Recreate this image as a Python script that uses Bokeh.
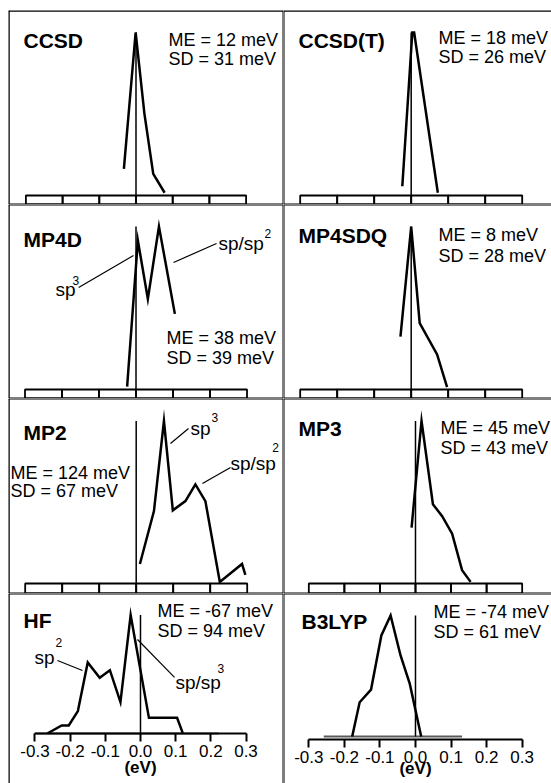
from bokeh.plotting import figure
from bokeh.layouts import gridplot
from bokeh.models import Span, Label, LinearAxis, FixedTicker, PrintfTickFormatter, Range1d
from bokeh.embed import file_html
from bokeh.resources import INLINE

FONT = "Liberation Sans"

# ---------------- data ----------------
ticks = [-0.3, -0.2, -0.1, 0.0, 0.1, 0.2, 0.3]
tick_labels = ["-0.3", "-0.2", "-0.1", "0.0", "0.1", "0.2", "0.3"]

methods = ["CCSD", "CCSD(T)", "MP4D", "MP4SDQ", "MP2", "MP3", "HF", "B3LYP"]
me_mev = [12, 18, 38, 8, 124, 45, -67, -74]
sd_mev = [31, 26, 39, 28, 67, 43, 94, 61]

# error (eV) and relative frequency (peak = 1)
ccsd_err = [-0.033, -0.001, 0.023, 0.047, 0.078]
ccsd_freq = [0.164, 1.0, 0.501, 0.133, 0.017]
ccsdt_err = [-0.024, 0.003, 0.008, 0.072]
ccsdt_freq = [0.057, 1.0, 1.0, 0.017]
mp4d_err = [-0.024, 0.005, 0.032, 0.062, 0.105]
mp4d_freq = [0.018, 0.914, 0.556, 1.0, 0.464]
mp4sdq_err = [-0.029, 0.0, 0.023, 0.070, 0.097]
mp4sdq_freq = [0.325, 1.0, 0.407, 0.215, 0.014]
mp2_err = [0.010, 0.048, 0.075, 0.099, 0.133, 0.160, 0.187, 0.226, 0.286, 0.295]
mp2_freq = [0.12, 0.446, 1.0, 0.45, 0.507, 0.61, 0.507, 0.01, 0.12, 0.053]
mp3_err = [-0.011, 0.017, 0.049, 0.075, 0.103, 0.131, 0.155]
mp3_freq = [0.344, 1.0, 0.488, 0.414, 0.307, 0.082, 0.01]
hf_err = [-0.265, -0.224, -0.204, -0.178, -0.150, -0.116, -0.087, -0.057,
          -0.028, 0.024, 0.104, 0.120]
hf_freq = [0.0, 0.068, 0.068, 0.189, 0.60, 0.47, 0.534, 0.265, 1.0, 0.132,
           0.132, 0.005]
hf_range = [-0.299, 0.222]
b3lyp_err = [-0.178, -0.157, -0.125, -0.096, -0.070, -0.042, -0.016, 0.016]
b3lyp_freq = [0.0, 0.283, 0.388, 0.835, 1.0, 0.67, 0.435, 0.0]
b3lyp_range = [-0.258, 0.131]

series_err = [ccsd_err, ccsdt_err, mp4d_err, mp4sdq_err, mp2_err, mp3_err, hf_err, b3lyp_err]
series_freq = [ccsd_freq, ccsdt_freq, mp4d_freq, mp4sdq_freq, mp2_freq, mp3_freq, hf_freq, b3lyp_freq]
series_range = {6: hf_range, 7: b3lyp_range}

# hybridisation annotations: (panel, text, sup, text xy, sup xy, leader start, leader end)
annotations = [
    (2, "sp", "3", (-0.2176, 0.613), (-0.1716, 0.669), (-0.155, 0.626), (-0.0068, 0.822)),
    (2, "sp/sp", "2", (0.223, 0.896), (0.347, 0.957), (0.1014, 0.779), (0.2176, 0.896)),
    (4, "sp", "3", (0.1468, 0.954), (0.2035, 1.023), (0.0927, 0.862), (0.1414, 0.954)),
    (4, "sp/sp", "2", (0.2549, 0.738), (0.368, 0.837), (0.179, 0.615), (0.2549, 0.714)),
    (6, "sp", "2", (-0.3014, 0.644), (-0.2417, 0.768), (-0.236, 0.616), (-0.165, 0.532)),
    (6, "sp/sp", "3", (0.0995, 0.428), (0.219, 0.549), (-0.0085, 0.793), (0.0967, 0.473)),
]

# ---------------- layout (sizes / ranges / text placement) ----------------
panels = [
    dict(w=283, h=204, ml=8, mt=10, x=(-0.3474, 0.4019), y=(-0.0552, 1.135), title=(-0.3065, 0.951), stats=(0.0886, 0.951, 0.840)),
    dict(w=268, h=204, ml=0, mt=10, x=(-0.3451, 0.3792), y=(-0.0552, 1.135), title=(-0.3046, 0.951), stats=(0.0738, 0.969, 0.847)),
    dict(w=283, h=194, ml=8, mt=0, x=(-0.3446, 0.3986), y=(-0.0552, 1.135), title=(-0.304, 0.920), stats=(0.0824, 0.313, 0.196)),
    dict(w=268, h=194, ml=0, mt=0, x=(-0.3451, 0.3792), y=(-0.0552, 1.135), title=(-0.3046, 0.945), stats=(0.0738, 0.945, 0.822)),
    dict(w=283, h=195, ml=8, mt=0, x=(-0.3451, 0.3981), y=(-0.0615, 1.1385), title=(-0.3046, 0.929), stats=(-0.3397, 0.683, 0.572)),
    dict(w=268, h=195, ml=0, mt=0, x=(-0.3712, 0.3825), y=(-0.0615, 1.1385), title=(-0.329, 0.954), stats=(0.0703, 0.954, 0.831)),
    dict(w=283, h=190, ml=8, mt=0, x=(-0.3753, 0.4066), y=(-0.4219, 1.1814), title=(-0.3327, 0.954), stats=(0.0483, 1.030, 0.869), axis_at=0.0, unit_y=-0.287),
    dict(w=268, h=190, ml=0, mt=0, x=(-0.3712, 0.3825), y=(-0.3884, 1.1818), title=(-0.3206, 0.950), stats=(0.0506, 1.025, 0.860), axis_at=-0.025, unit_y=-0.264),
]


def label(p, x, y, text, size, bold=False, align="left"):
    p.add_layout(Label(x=x, y=y, text=text, text_font=FONT, text_font_size=size,
                       text_font_style="bold" if bold else "normal", text_color="black",
                       text_align=align, text_baseline="middle"))


figs = []
for i, cfg in enumerate(panels):
    col = i % 2
    row = i // 2
    p = figure(width=cfg["w"], height=cfg["h"], output_backend="svg", toolbar_location=None,
               x_range=Range1d(*cfg["x"]), y_range=Range1d(*cfg["y"]),
               x_axis_location=None, y_axis_location=None,
               min_border_left=cfg["ml"], min_border_right=0, min_border_bottom=0,
               min_border_top=cfg["mt"], outline_line_color=None,
               background_fill_color="white", border_fill_color="white")
    p.grid.visible = False

    x0, x1 = cfg["x"]
    y0, y1 = cfg["y"]

    # panel borders
    if col == 0:
        p.add_layout(Span(location=x0, dimension="height", line_color="black", line_width=2.5))
        p.add_layout(Span(location=x1, dimension="height", line_color="black", line_width=2))
    else:
        p.add_layout(Span(location=x0, dimension="height", line_color="black", line_width=2))
    p.add_layout(Span(location=y1, dimension="width", line_color="black",
                      line_width=2.5 if row == 0 else 2))
    if row < 3:
        p.add_layout(Span(location=y0, dimension="width", line_color="black", line_width=2))
        # ruler-style x scale along the bottom
        p.quad(left=ticks[:-1], right=ticks[1:], bottom=y0, top=0,
               fill_color=None, line_color="black", line_width=1.8)
    else:
        lo, hi = series_range[i]
        p.line([lo, hi], [0, 0], line_color="#5a5a5a", line_width=2)
        ax = LinearAxis(fixed_location=cfg["axis_at"], ticker=FixedTicker(ticks=ticks),
                        formatter=PrintfTickFormatter(format="%.1f"),
                        major_label_overrides={t: l for t, l in zip(ticks, tick_labels)},
                        bounds=(ticks[0], ticks[-1]),
                        axis_line_width=2, major_tick_line_width=2,
                        major_tick_in=0, major_tick_out=8,
                        minor_tick_line_color=None, major_label_standoff=3,
                        major_label_text_font=FONT, major_label_text_font_size="17px",
                        major_label_text_color="black")
        p.add_layout(ax, "below")
        label(p, 0.0, cfg["unit_y"], "(eV)", "17px", bold=True, align="center")

    # zero reference line
    peak = max(series_freq[i])
    p.line([0, 0], [0, peak], line_color="black", line_width=1.5)

    # distribution curve
    p.line(series_err[i], series_freq[i], line_color="black", line_width=2.5,
           line_join="miter")

    # texts
    tx, ty = cfg["title"]
    label(p, tx, ty, methods[i], "21px", bold=True)
    sx, sy1, sy2 = cfg["stats"]
    label(p, sx, sy1, f"ME = {me_mev[i]} meV", "18px")
    label(p, sx, sy2, f"SD = {sd_mev[i]} meV", "18px")

    for (pi, txt, sup, (ax_, ay_), (bx, by), (lx0, ly0), (lx1, ly1)) in annotations:
        if pi != i:
            continue
        p.line([lx0, lx1], [ly0, ly1], line_color="black", line_width=1.2)
        label(p, ax_, ay_, txt, "19px")
        label(p, bx, by, sup, "12px")

    figs.append(p)

grid = gridplot([figs[0:2], figs[2:4], figs[4:6], figs[6:8]], toolbar_location=None)

open("out.html", "w").write(file_html(grid, INLINE))
